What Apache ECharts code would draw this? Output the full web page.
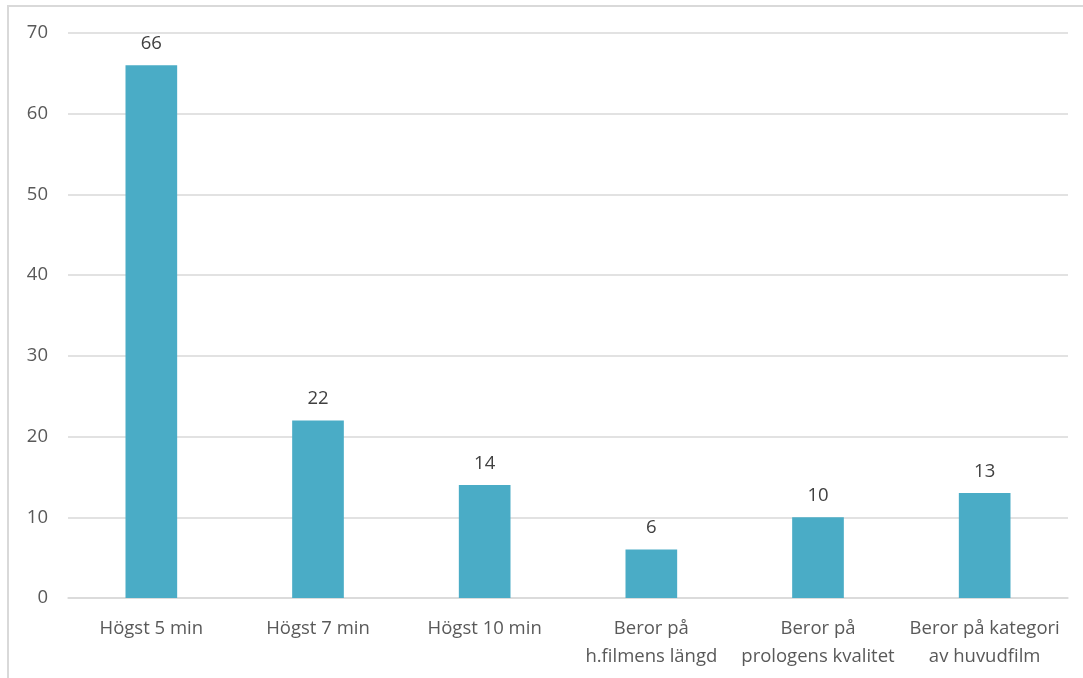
<!DOCTYPE html>
<html><head><meta charset="utf-8">
<script src="https://cdn.jsdelivr.net/npm/echarts@6/dist/echarts.min.js"></script>
<style>
html,body{margin:0;padding:0;background:#fff;overflow:hidden}
#frame{position:absolute;left:7px;top:5px;width:1080px;height:690px;border:2px solid #d9d9d9;box-sizing:border-box}
#c{position:absolute;left:0;top:0;width:1083px;height:678px}
</style></head>
<body><div id="frame"></div><div id="c"></div>
<script>
const categories = ['Högst 5 min','Högst 7 min','Högst 10 min','Beror på\nh.filmens längd','Beror på\nprologens kvalitet','Beror på kategori\nav huvudfilm'];
const values = [66,22,14,6,10,13];
const yTicks = {min:0,max:70,interval:10};
const font = '"Open Sans", Calibri, sans-serif';
const chart = echarts.init(document.getElementById('c'));
chart.setOption({
  animation:false,
  grid:{left:68,right:15,top:33,bottom:80},
  xAxis:{type:'category',data:categories,
    axisLine:{lineStyle:{color:'#d9d9d9',width:1.5}},axisTick:{show:false},
    axisLabel:{color:'#595959',fontSize:18.5,fontFamily:font,lineHeight:28,margin:17,interval:0}},
  yAxis:{type:'value',min:yTicks.min,max:yTicks.max,interval:yTicks.interval,
    axisLine:{show:false},axisTick:{show:false},
    splitLine:{lineStyle:{color:'#d9d9d9',width:1.5}},
    axisLabel:{color:'#595959',fontSize:18.5,fontFamily:font,margin:20}},
  series:[{type:'bar',data:values,barWidth:'31%',itemStyle:{color:'#4aacc6'},
    label:{show:true,position:'top',distance:12,color:'#404040',fontSize:18.5,fontFamily:font}}]
});
</script></body></html>
